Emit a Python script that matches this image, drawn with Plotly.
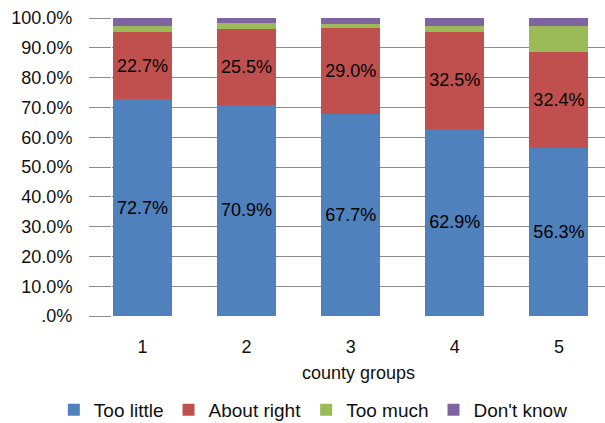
import plotly.graph_objects as go

categories = ["1", "2", "3", "4", "5"]
too_little = [72.7, 70.9, 67.7, 62.9, 56.3]
about_right = [22.7, 25.5, 29.0, 32.5, 32.4]
too_much = [2.0, 1.9, 1.2, 2.0, 8.6]
dont_know = [2.6, 1.7, 2.1, 2.6, 2.7]
tick_vals = [0, 10, 20, 30, 40, 50, 60, 70, 80, 90, 100]
tick_text = [".0%", "10.0%", "20.0%", "30.0%", "40.0%", "50.0%", "60.0%", "70.0%", "80.0%", "90.0%", "100.0%"]

xpos = [int(c) for c in categories]
FONT = "Liberation Sans"

fig = go.Figure()
series = [
    ("Too little", too_little, "#4F81BD", True),
    ("About right", about_right, "#C0504D", True),
    ("Too much", too_much, "#9BBB59", False),
    ("Don't know", dont_know, "#8064A2", False),
]
for name, vals, color, lab in series:
    fig.add_trace(go.Bar(
        x=xpos, y=vals, name=name, width=0.567,
        marker=dict(color=color, line=dict(width=0)),
        text=[f"{v:.1f}%" for v in vals] if lab else None,
        textposition="inside" if lab else "none",
        insidetextanchor="middle",
        textfont=dict(color="black", size=18, family=FONT),
        textangle=0,
        hoverinfo="skip",
    ))

fig.update_layout(
    barmode="stack",
    width=605, height=423,
    margin=dict(l=112, r=0, t=18, b=107, autoexpand=False),
    paper_bgcolor="white", plot_bgcolor="white",
    font=dict(family=FONT, size=18, color="#111111"),
    legend=dict(orientation="h", xref="paper", x=-0.118, xanchor="left",
                yref="paper", y=-0.315, yanchor="middle",
                font=dict(size=19, family=FONT), traceorder="normal",
                itemwidth=30, tracegroupgap=0),
    xaxis=dict(
        range=[0.707, 5.443], tickvals=xpos, ticktext=categories,
        showgrid=False, zeroline=False, showline=False, ticks="",
        ticklabelstandoff=18, automargin=False,
        title=dict(text="county groups", standoff=10, font=dict(size=18, family=FONT)),
        fixedrange=True,
    ),
    yaxis=dict(
        range=[0, 100], tickvals=tick_vals, ticktext=tick_text,
        showgrid=True, gridcolor="#8c8c8c", gridwidth=1,
        zeroline=False, showline=False, automargin=False,
        ticks="outside", ticklen=22, tickcolor="#8c8c8c", tickwidth=1,
        ticklabelstandoff=13,
        fixedrange=True,
    ),
)
fig.write_html("out.html", config={"displayModeBar": False},
               post_script="document.body.style.margin='0';document.body.style.overflow='hidden';")
